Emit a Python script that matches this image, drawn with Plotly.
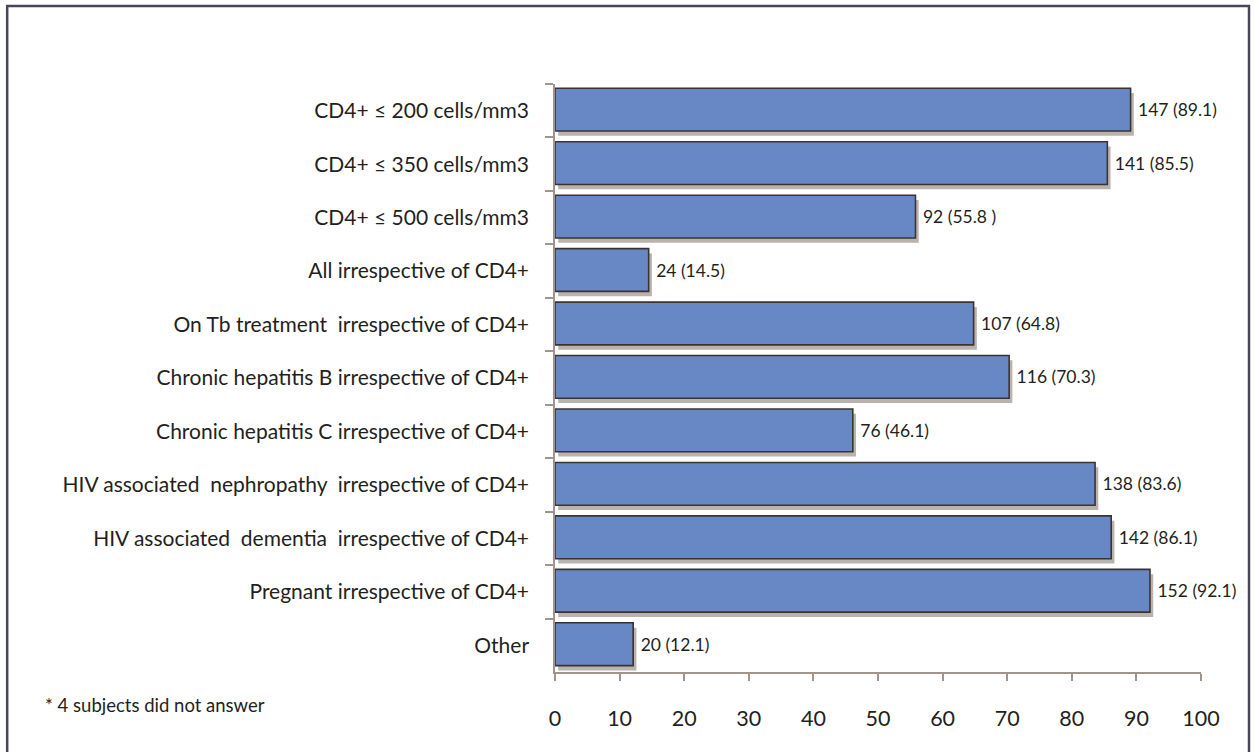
import plotly.graph_objects as go

categories = [
    "CD4+ ≤ 200 cells/mm3",
    "CD4+ ≤ 350 cells/mm3",
    "CD4+ ≤ 500 cells/mm3",
    "All irrespective of CD4+",
    "On Tb treatment  irrespective of CD4+",
    "Chronic hepatitis B irrespective of CD4+",
    "Chronic hepatitis C irrespective of CD4+",
    "HIV associated  nephropathy  irrespective of CD4+",
    "HIV associated  dementia  irrespective of CD4+",
    "Pregnant irrespective of CD4+",
    "Other",
]
percents = [89.1, 85.5, 55.8, 14.5, 64.8, 70.3, 46.1, 83.6, 86.1, 92.1, 12.1]
counts = [147, 141, 92, 24, 107, 116, 76, 138, 142, 152, 20]
labels = ["147 (89.1)", "141 (85.5)", "92 (55.8 )", "24 (14.5)", "107 (64.8)",
          "116 (70.3)", "76 (46.1)", "138 (83.6)", "142 (86.1)", "152 (92.1)", "20 (12.1)"]
x_ticks = [0, 10, 20, 30, 40, 50, 60, 70, 80, 90, 100]

FONT = "Lato"
TXT = "#231f20"

fig = go.Figure()
# soft drop shadow
fig.add_trace(go.Bar(
    y=categories, x=percents, base=[0.5] * len(percents), orientation="h",
    width=0.8, offset=-0.33,
    marker=dict(color="rgba(140,128,118,0.6)", line=dict(width=0)),
    hoverinfo="skip", showlegend=False,
))
fig.add_trace(go.Bar(
    y=categories, x=percents, orientation="h",
    width=0.8, offset=-0.42,
    marker=dict(color="#6788c4", line=dict(color="#3b3333", width=1.6)),
    text=["\u00a0" + s for s in labels], textposition="outside", cliponaxis=False,
    textfont=dict(family=FONT, size=17.5, color=TXT),
    showlegend=False,
))

fig.update_layout(
    width=1254, height=752,
    margin=dict(l=555, r=53, t=84, b=80),
    paper_bgcolor="white", plot_bgcolor="white",
    barmode="overlay",
    font=dict(family=FONT, size=17, color=TXT),
    xaxis=dict(
        range=[0, 100], tickvals=x_ticks, ticktext=[str(v) for v in x_ticks],
        showgrid=False, zeroline=False, showline=True, linecolor="#a0958c", linewidth=1.5,
        ticks="outside", ticklen=7, tickcolor="#a0958c", tickwidth=1.5,
        ticklabelstandoff=19, tickfont=dict(family=FONT, size=21.5, color=TXT),
    ),
    yaxis=dict(
        autorange="reversed", showgrid=False, zeroline=False,
        showline=True, linecolor="#a0958c", linewidth=1.5,
        ticks="outside", tickson="boundaries", ticklen=8, tickcolor="#a0958c", tickwidth=1.5,
        ticklabelstandoff=20, tickfont=dict(family=FONT, size=21, color=TXT),
    ),
    shapes=[dict(
        type="rect", xref="paper", yref="paper",
        x0=-0.848, x1=1.0743, y0=-0.25, y1=1.1327,
        line=dict(color="#4a4458", width=2.5), fillcolor="rgba(0,0,0,0)", layer="below",
    )],
    annotations=[dict(
        text="* 4 subjects did not answer", xref="paper", yref="paper",
        x=(43 - 555) / 646, y=(672 - 705) / 588, xanchor="left", yanchor="middle",
        showarrow=False, font=dict(family=FONT, size=18.5, color=TXT),
    )],
)

fig.write_html("out.html")
